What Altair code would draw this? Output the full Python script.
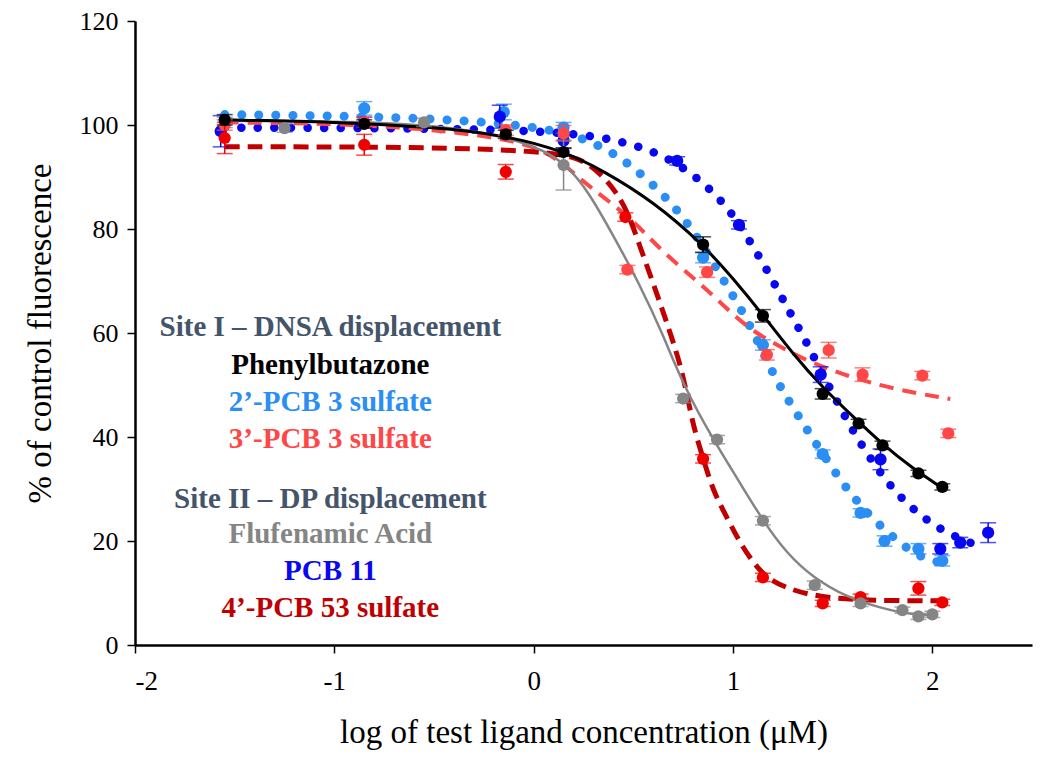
import altair as alt
import pandas as pd

# ---------------- data ----------------
series_names = ["Phenylbutazone", "2’-PCB 3 sulfate", "3’-PCB 3 sulfate",
                "Flufenamic Acid", "PCB 11", "4’-PCB 53 sulfate"]
point_colors = ["#000000", "#2A8EF5", "#FF4747", "#858585", "#0808F0", "#F00000"]
line_colors = ["#000000", "#2A8EF5", "#FF4747", "#858585", "#0808F0", "#C00000"]

# measured points: log concentration, % fluorescence, error
phen_x = [-1.55, -0.85, -0.14, 0.15, 0.85, 1.15, 1.45, 1.63, 1.75, 1.93, 2.05]
phen_y = [101.0, 100.2, 98.2, 94.8, 77.0, 63.3, 48.3, 42.6, 38.4, 33.0, 30.4]
phen_e = [1.0, 0.8, 0.8, 0.8, 1.5, 1.2, 1.0, 0.8, 0.8, 0.6, 0.6]

lb_x = [-1.55, -0.85, -0.15, 0.15, 0.85, 1.15, 1.45, 1.64, 1.76, 1.93, 2.05]
lb_y = [100.5, 103.2, 102.5, 99.5, 74.5, 57.7, 36.7, 25.4, 20.0, 18.5, 16.2]
lb_e = [1.0, 1.3, 1.5, 1.0, 1.0, 1.0, 0.8, 0.8, 1.0, 1.0, 1.0]

lr_x = [-1.55, -0.85, -0.14, 0.15, 0.47, 0.87, 1.17, 1.48, 1.65, 1.95, 2.08]
lr_y = [100.0, 100.5, 99.0, 98.4, 72.2, 71.7, 55.8, 56.7, 52.0, 51.8, 40.7]
lr_e = [1.0, 1.0, 1.0, 1.5, 0.8, 1.0, 1.0, 1.5, 1.3, 0.8, 0.8]

fl_x = [-1.25, -0.55, 0.15, 0.75, 0.92, 1.15, 1.41, 1.64, 1.85, 1.93, 2.0]
fl_y = [99.4, 100.5, 92.3, 47.4, 39.5, 23.9, 11.5, 8.0, 6.7, 5.5, 5.9]
fl_e = [0.8, 0.8, 4.8, 0.8, 0.8, 0.8, 0.8, 0.6, 0.6, 0.6, 0.6]

b11_x = [-1.57, -0.85, -0.17, 0.15, 0.72, 1.03, 1.44, 1.74, 2.04, 2.14, 2.28]
b11_y = [98.8, 100.5, 101.6, 97.0, 93.1, 80.8, 52.0, 35.7, 18.5, 19.7, 21.6]
b11_e = [3.0, 1.0, 2.2, 1.5, 0.8, 0.8, 1.5, 2.0, 1.0, 1.0, 1.9]

dr_x = [-1.55, -0.85, -0.14, 0.46, 0.85, 1.15, 1.45, 1.64, 1.93, 2.05]
dr_y = [97.5, 96.2, 91.0, 82.3, 35.8, 13.0, 8.0, 9.2, 10.9, 8.2]
dr_e = [3.0, 2.0, 1.4, 0.8, 0.8, 0.8, 0.6, 0.6, 1.3, 0.6]

# fitted curves
phen_cx = [-1.55, -1.0, -0.5, -0.14, 0.15, 0.35, 0.6, 0.85, 1.0, 1.15, 1.3, 1.45, 1.6, 1.75, 1.9, 2.05]
phen_cy = [101.0, 100.6, 99.6, 98.0, 95.0, 91.2, 85.3, 77.0, 70.5, 63.5, 56.0, 49.5, 44.0, 38.6, 34.0, 30.2]

lb_cx = [-1.55, -0.6, 0.08, 0.33, 0.49, 0.66, 0.8, 0.95, 1.05, 1.13, 1.22, 1.32, 1.45, 1.6, 1.76, 1.93, 2.05]
lb_cy = [102.0, 101.6, 99.7, 96.3, 92.3, 86.4, 79.9, 70.3, 64.0, 58.0, 50.6, 44.5, 36.7, 28.3, 22.0, 16.8, 15.8]

lr_cx = [-1.55, -0.8, -0.17, 0.08, 0.25, 0.4, 0.52, 0.65, 0.82, 0.95, 1.08, 1.22, 1.35, 1.55, 1.79, 2.09]
lr_cy = [100.5, 100.2, 97.8, 95.0, 89.0, 84.7, 80.8, 75.5, 70.0, 65.4, 60.8, 57.7, 55.0, 52.0, 49.3, 47.3]

fl_cx = [-1.55, -0.67, -0.2, 0.07, 0.17, 0.27, 0.4, 0.53, 0.65, 0.75, 0.9, 1.03, 1.15, 1.27, 1.4, 1.57, 1.74, 1.9, 2.02]
fl_cy = [100.8, 100.7, 98.5, 95.0, 92.0, 87.5, 78.7, 69.5, 59.6, 50.0, 39.5, 31.5, 23.9, 17.6, 13.0, 9.2, 7.1, 5.8, 5.7]

b11_cx = [-1.55, -0.64, -0.04, 0.3, 0.47, 0.63, 0.81, 0.97, 1.08, 1.18, 1.27, 1.36, 1.45, 1.54, 1.63, 1.8, 1.97, 2.1, 2.23]
b11_cy = [99.5, 99.4, 99.0, 98.0, 96.5, 94.6, 90.4, 84.5, 78.0, 71.5, 65.0, 58.9, 52.0, 45.5, 39.2, 29.6, 23.9, 21.0, 19.1]

dr_cx = [-1.55, -0.6, 0.08, 0.27, 0.4, 0.47, 0.53, 0.6, 0.65, 0.7, 0.75, 0.8, 0.85, 0.9, 0.97, 1.03, 1.1, 1.17, 1.28, 1.39, 1.55, 1.8, 2.07]
dr_cy = [95.8, 95.8, 95.0, 93.3, 88.0, 83.5, 77.0, 69.5, 64.0, 58.3, 52.0, 42.0, 36.0, 29.6, 24.5, 20.0, 15.9, 12.8, 10.8, 9.6, 8.8, 8.5, 8.5]

# legend text block
legend_lines = ["Site I – DNSA displacement", "Phenylbutazone", "2’-PCB 3 sulfate",
                "3’-PCB 3 sulfate", "Site II – DP displacement", "Flufenamic Acid",
                "PCB 11", "4’-PCB 53 sulfate"]
legend_colors = ["#44546A", "#000000", "#2A8EF5", "#FF4747",
                 "#44546A", "#858585", "#0808F0", "#C00000"]
legend_y = [61.1, 53.9, 46.8, 39.7, 28.1, 21.4, 14.3, 7.1]
legend_x = -1.02

# ---------------- build tables ----------------
pts = [(phen_x, phen_y, phen_e), (lb_x, lb_y, lb_e), (lr_x, lr_y, lr_e),
       (fl_x, fl_y, fl_e), (b11_x, b11_y, b11_e), (dr_x, dr_y, dr_e)]
curves = [(phen_cx, phen_cy), (lb_cx, lb_cy), (lr_cx, lr_cy),
          (fl_cx, fl_cy), (b11_cx, b11_cy), (dr_cx, dr_cy)]

FONT = "Liberation Serif"
W, H = 897, 624
xs = alt.Scale(domain=[-2, 2.5], nice=False, zero=False)
ys = alt.Scale(domain=[0, 120], nice=False)

line_styles = {
    "Phenylbutazone": dict(strokeWidth=3),
    "2’-PCB 3 sulfate": dict(strokeWidth=9, strokeDash=[0.1, 17], strokeCap="round"),
    "3’-PCB 3 sulfate": dict(strokeWidth=4, strokeDash=[14, 9]),
    "Flufenamic Acid": dict(strokeWidth=2.5),
    "PCB 11": dict(strokeWidth=8.5, strokeDash=[0.1, 16.5], strokeCap="round"),
    "4’-PCB 53 sulfate": dict(strokeWidth=5, strokeDash=[15, 8]),
}
draw_order = [1, 4, 2, 5, 3, 0]

x_axis = alt.Axis(values=[-2, -1, 0, 1, 2], title="log of test ligand concentration (μM)",
                  labelExpr="'' + datum.value",
                  labelFont=FONT, titleFont=FONT,
                  labelFontSize=27, titleFontSize=33, labelPadding=15, titlePadding=22,
                  titleFontWeight="normal", grid=False)
y_axis = alt.Axis(values=[0, 20, 40, 60, 80, 100, 120], title="% of control fluorescence",
                  labelFont=FONT, titleFont=FONT,
                  labelFontSize=26, titleFontSize=33, labelPadding=9, titlePadding=22,
                  titleFontWeight="normal", grid=False)

layers = []
for i in draw_order:
    name = series_names[i]
    cdf = pd.DataFrame({"x": curves[i][0], "y": curves[i][1]})
    layers.append(alt.Chart(cdf).mark_line(color=line_colors[i], interpolate="basis",
                                            **line_styles[name]).encode(
        x=alt.X("x:Q", scale=xs, axis=x_axis), y=alt.Y("y:Q", scale=ys, axis=y_axis)))

for i in draw_order:
    px, py, pe = pts[i]
    pdf = pd.DataFrame({"x": px, "y": py, "lo": [a - b for a, b in zip(py, pe)],
                        "hi": [a + b for a, b in zip(py, pe)]})
    base = alt.Chart(pdf)
    layers.append(base.mark_rule(color=point_colors[i], strokeWidth=1.5).encode(
        x="x:Q", y="lo:Q", y2="hi:Q"))
    layers.append(base.mark_tick(color=point_colors[i], orient="horizontal", size=16,
                                 thickness=1.5).encode(x="x:Q", y="lo:Q"))
    layers.append(base.mark_tick(color=point_colors[i], orient="horizontal", size=16,
                                 thickness=1.5).encode(x="x:Q", y="hi:Q"))
    layers.append(base.mark_circle(color=point_colors[i], opacity=1, size=150).encode(
        x="x:Q", y="y:Q"))

ldf = pd.DataFrame({"t": legend_lines, "c": legend_colors, "y": legend_y,
                    "x": [legend_x] * len(legend_lines)})
layers.append(alt.Chart(ldf).mark_text(font=FONT, fontSize=29, fontWeight="bold",
                                       align="center", baseline="middle").encode(
    x="x:Q", y="y:Q", text="t:N", color=alt.Color("c:N", scale=None)))

chart = alt.layer(*layers).properties(
    width=W, height=H,
    autosize=alt.AutoSizeParams(type="none"),
    padding={"left": 127, "top": 13, "right": 10, "bottom": 112},
    background="white",
).configure_view(stroke=None).configure_axis(
    labelFont=FONT, titleFont=FONT, labelColor="black", titleColor="black",
    domainColor="black", domainWidth=2.5, tickColor="black", tickWidth=1.5, tickSize=8,
)

chart.save("out.html", embed_options={"renderer": "svg", "actions": False})
